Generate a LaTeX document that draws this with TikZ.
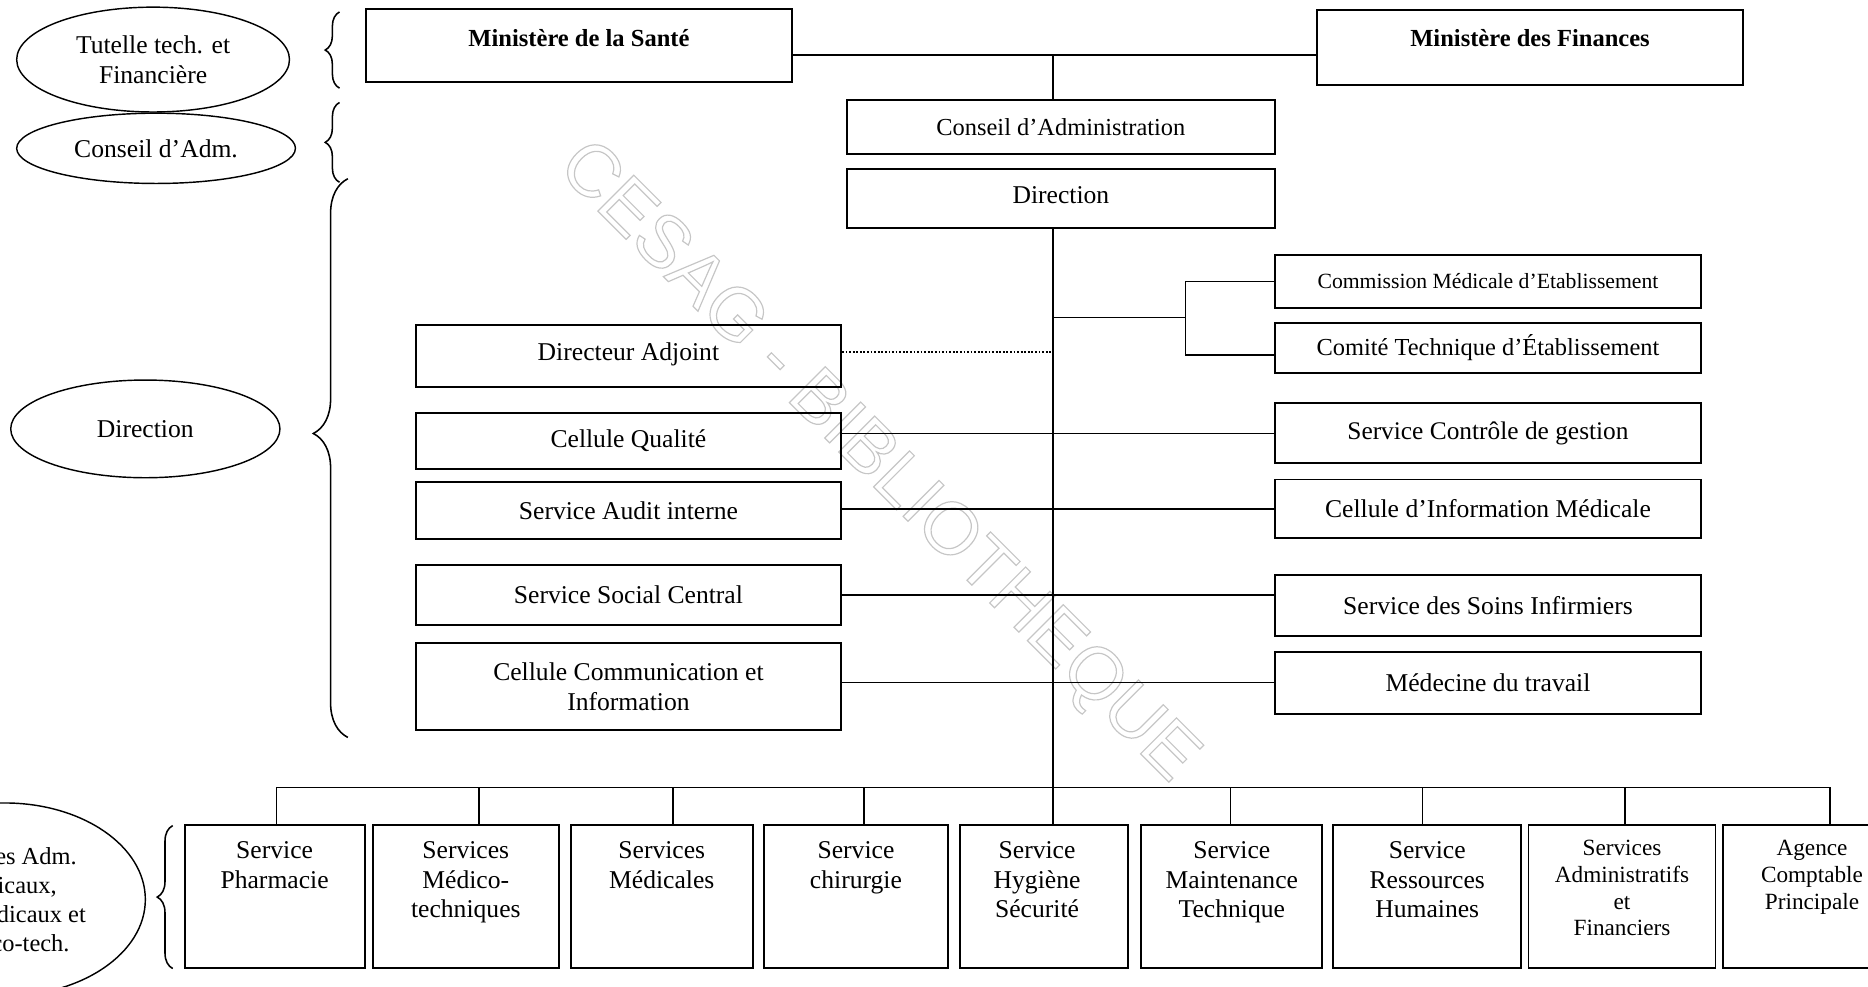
\documentclass[tikz,border=0pt]{standalone}
\usepackage{fontspec}
\setmainfont{Liberation Serif}
\newfontfamily\filigranefont{Liberation Sans}
\usetikzlibrary{shapes.geometric,decorations.pathreplacing}
\begin{document}
\begin{tikzpicture}[x=1pt, y=-1pt,
	font=\fontsize{21.5}{25}\selectfont,
	boite/.style={draw, line width=1.6pt, minimum width=357, inner sep=0pt, align=center},
	service/.style={draw, line width=1.6pt, minimum height=120, anchor=north, inner sep=0pt},
	stexte/.style={anchor=north, align=center, inner sep=0pt, yshift=-14pt},
	niveau/.style={draw, ellipse, line width=1.2pt, inner sep=0pt, align=center},
	lien/.style={line width=1.4pt},
	accolade/.style={decorate, decoration={brace, amplitude=#1}, line width=1.3pt}]
	\useasboundingbox (0,0) rectangle (1568,828);
	\clip (0,0) rectangle (1568,828);
	%filigrane
	\node[rotate=-45, inner sep=0pt, text=gray!45, font=\filigranefont\fontsize{62}{62}\selectfont] (filigrane) at (736,389)
		{\special{pdf:literal direct 1 Tr 1 w}CESAG - BIBLIOTHEQUE\special{pdf:literal direct 0 Tr}};
	%niveaux a gauche
	\node[niveau, minimum width=229, minimum height=88] (tutelle) at (128.5,50) {Tutelle tech. et\\Financière};
	\node[niveau, minimum width=234, minimum height=59] (conseil) at (131,124.5) {Conseil d’Adm.};
	\node[niveau, minimum width=226, minimum height=82] (dirl) at (122,360) {Direction};
	\node[niveau, minimum width=236, minimum height=162, font=\fontsize{20.5}{24.2}\selectfont] (servl) at (4,755)
		{Services Adm.\\Médicaux,\\Paramédicaux et\\Médico-tech.};
	%accolades
	\draw[accolade=12] (285,74) -- (285,10);
	\draw[accolade=12] (285,153) -- (285,86);
	\draw[accolade=29, decoration={aspect=0.544}] (292,619) -- (292,150);
	\draw[accolade=13] (145,813) -- (145,693);
	%tutelle
	\node[boite, minimum width=357.5, minimum height=61, text depth=13, font=\bfseries\fontsize{20.6}{25}\selectfont] (sante) at (486,38.3) {Ministère de la Santé};
	\node[boite, minimum height=63, text depth=16, font=\bfseries\fontsize{20.6}{25}\selectfont] (finances) at (1284.3,40) {Ministère des Finances};
	\node[boite, minimum width=359, minimum height=45, font=\fontsize{20.5}{25}\selectfont] (ca) at (890.5,106.7) {Conseil d’Administration};
	\node[boite, minimum width=359, minimum height=50, text depth=5] (direction) at (890.5,166.5) {Direction};
	%a droite
	\node[boite, minimum height=44.6, font=\fontsize{18.2}{22}\selectfont] (cme) at (1249,236.3) {Commission Médicale d’Etablissement};
	\node[boite, minimum height=42, font=\fontsize{20.5}{25}\selectfont] (cte) at (1249,292) {Comité Technique d’Établissement};
	\node[boite, minimum height=50.4, font=\fontsize{21.3}{25}\selectfont] (scg) at (1249,363.8) {Service Contrôle de gestion};
	\node[boite, minimum height=49] (cim) at (1249,427) {Cellule d’Information Médicale};
	\node[boite, minimum height=51] (ssi) at (1249,508.5) {Service des Soins Infirmiers};
	\node[boite, minimum height=52] (mdt) at (1249,573) {Médecine du travail};
	%a gauche
	\node[boite, minimum height=52, text depth=8] (da) at (527.5,299) {Directeur Adjoint};
	\node[boite, minimum height=47] (cq) at (527.5,370) {Cellule Qualité};
	\node[boite, minimum height=48] (sai) at (527.5,428.5) {Service Audit interne};
	\node[boite, minimum height=50.7] (ssc) at (527.5,499.4) {Service Social Central};
	\node[boite, minimum height=73, font=\fontsize{21.5}{24.5}\selectfont] (cci) at (527.5,576.5) {Cellule Communication et\\Information};
	%services
	\node[service, minimum width=151, label={[stexte]north:Service\\Pharmacie}] (pharm) at (230.5,692) {};
	\node[service, minimum width=156, label={[stexte]north:Services\\Médico-\\techniques}] (medtech) at (391,692) {};
	\node[service, minimum width=153, label={[stexte]north:Services\\Médicales}] (medic) at (555.5,692) {};
	\node[service, minimum width=155, label={[stexte]north:Service\\chirurgie}] (chir) at (718.5,692) {};
	\node[service, minimum width=141, label={[stexte, xshift=-6pt]north:Service\\Hygiène\\Sécurité}] (hyg) at (876.5,692) {};
	\node[service, minimum width=152, label={[stexte]north:Service\\Maintenance\\Technique}] (maint) at (1034,692) {};
	\node[service, minimum width=158, label={[stexte]north:Service\\Ressources\\Humaines}] (rh) at (1198,692) {};
	\node[service, minimum width=157, label={[stexte, yshift=1pt, font=\fontsize{19.5}{22.5}\selectfont]north:Services\\Administratifs\\et\\Financiers}] (saf) at (1361.5,692) {};
	\node[service, minimum width=150, label={[stexte, yshift=1pt, font=\fontsize{19.5}{22.5}\selectfont]north:Agence\\Comptable\\Principale}] (acp) at (1521,692) {};
	%liaisons
	\coordinate (haut) at (884,46);
	\draw[lien] (sante.east |- haut) -- (finances.west |- haut);
	\draw[lien] (haut) -- (haut |- ca.north);
	\draw[lien] (direction.south -| haut) -- (haut |- hyg.north);
	\coordinate (fourche) at (995,266.5);
	\draw[lien] (haut |- fourche) -- (fourche);
	\draw[lien] (cme.west) -| (fourche) |- ([yshift=-6pt]cte.west);
	\coordinate (dae) at ([yshift=3.5pt]da.east);
	\draw[line width=1.3pt, dash pattern=on 1.5pt off 1.5pt] (dae) -- (dae -| haut);
	\draw[lien] (cq.east |- scg.west) -- (scg.west);
	\draw[lien] (sai.east |- cim.west) -- (cim.west);
	\draw[lien] (ssc.east) -- (ssc.east -| ssi.west);
	\draw[lien] (cci.east |- mdt.west) -- (mdt.west);
	\coordinate (busg) at (232,661);
	\coordinate (busd) at (1536,661);
	\draw[lien] (busg) -- (busd);
	\foreach \n/\x in {pharm/232,medtech/402,medic/565,chir/725,maint/1033,rh/1194,saf/1364,acp/1536}
		\draw[lien] (\x,661) -- (\n.north -| \x,661);
\end{tikzpicture}
\end{document}
